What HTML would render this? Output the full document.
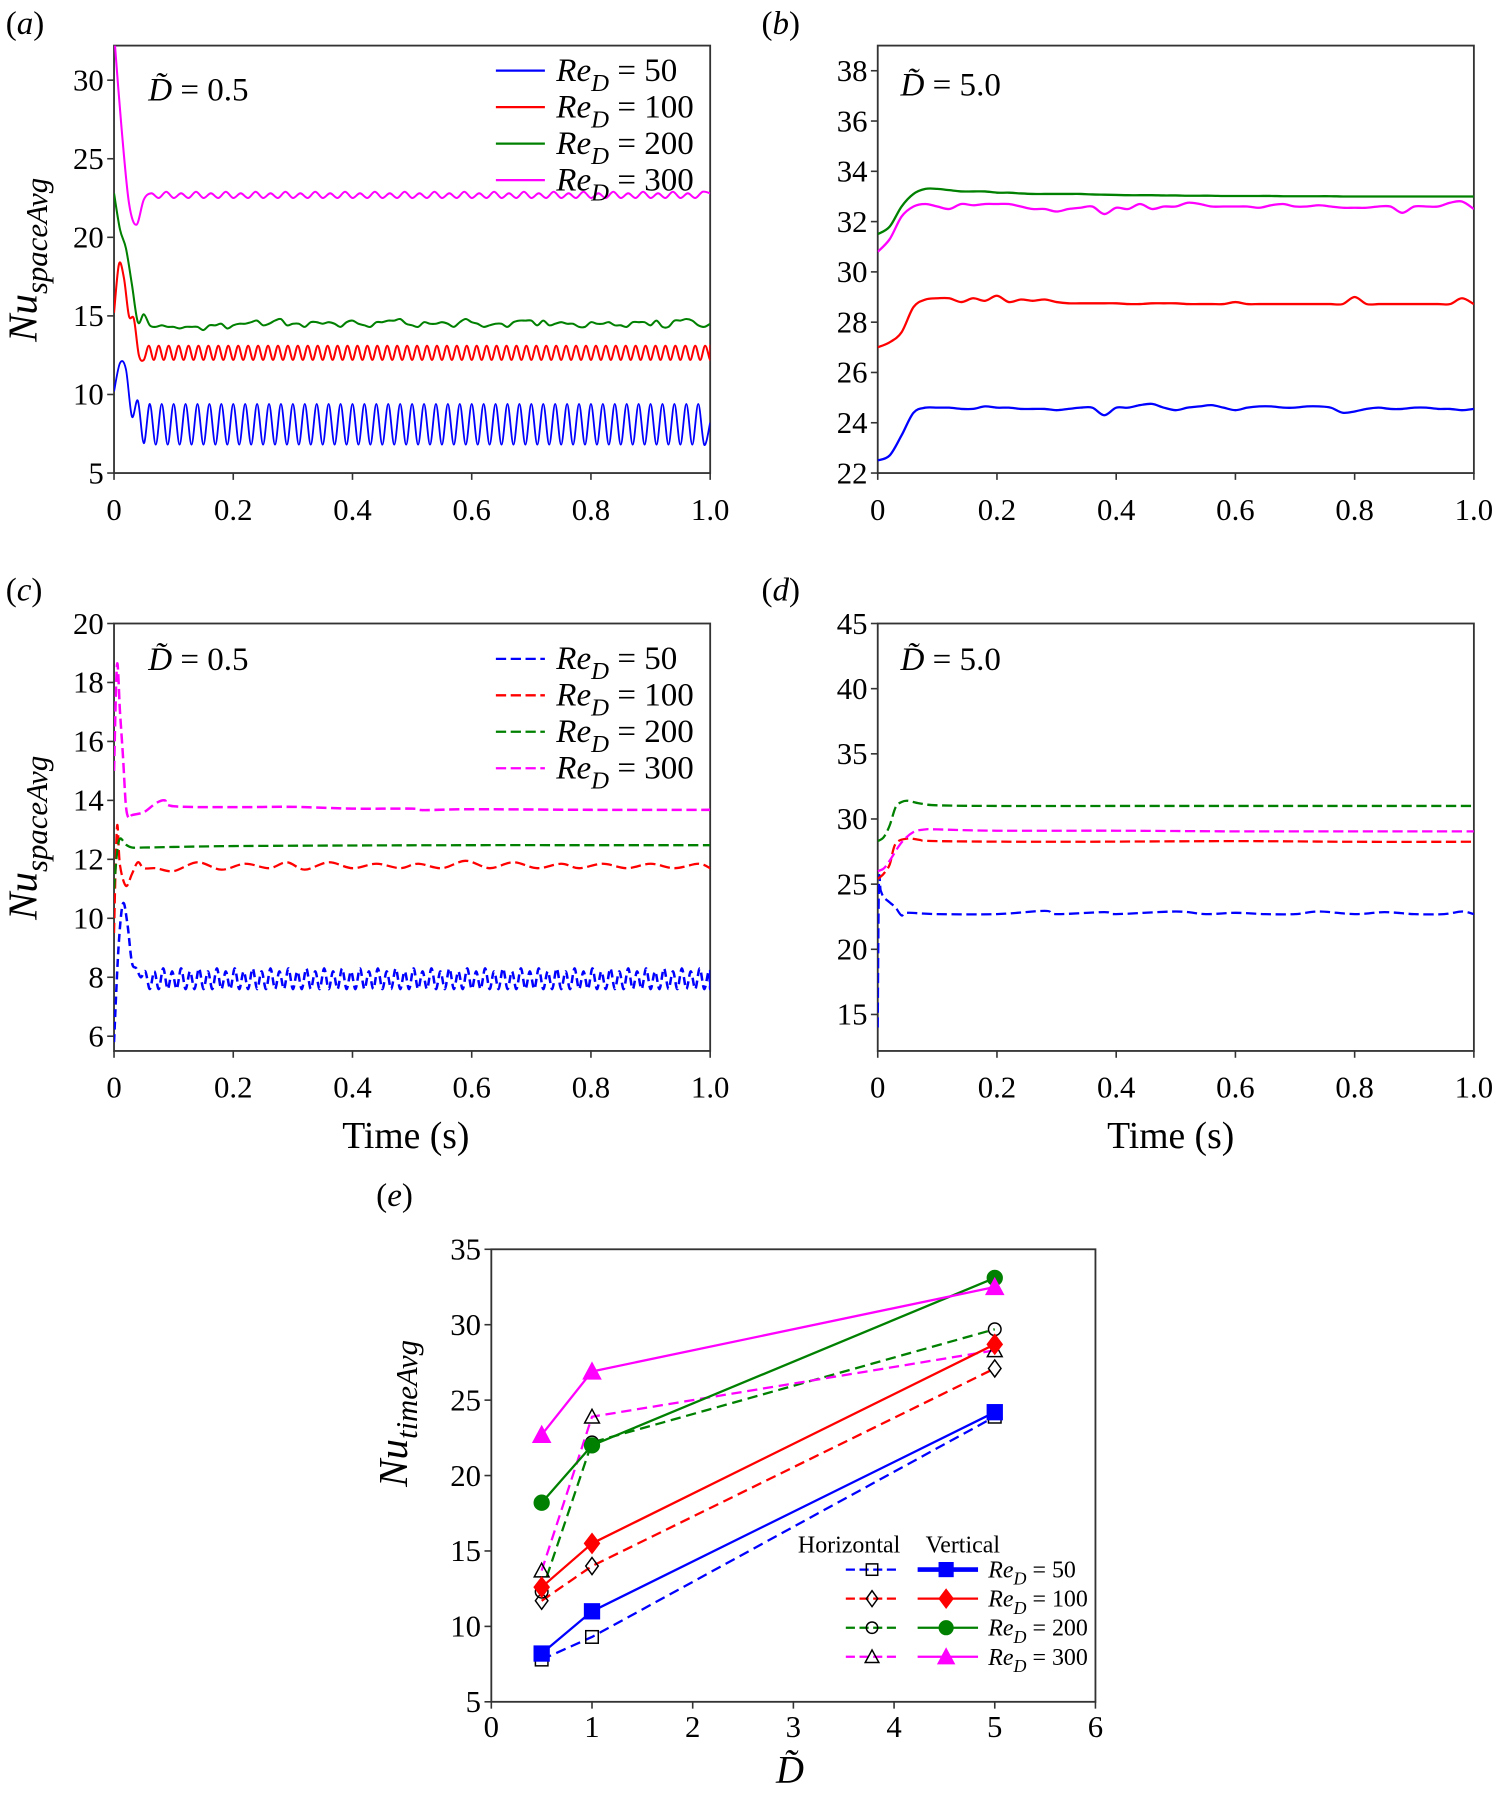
<!DOCTYPE html>
<html><head><meta charset="utf-8"><style>
html,body{margin:0;padding:0;background:#fff;}
svg{display:block;}
svg text{font-family:"Liberation Serif","Times New Roman",serif;}
</style></head><body>
<svg id="fig" width="1499" height="1793" viewBox="0 0 1315 1573" font-family="Liberation Serif, serif" xmlns="http://www.w3.org/2000/svg"></svg>
<script>
// ---------- data ----------
const aBlueDt = 0.01;
const aBlue = [10.2,12,11.6,8.6,9.6,6.9,9.4,6.8,9.4,6.8,9.4,6.8,9.4,6.8,9.4,6.8,9.4,6.8,9.4,6.8,9.4,6.8,9.4,6.8,9.4,6.8,9.4,6.8,9.4,6.8,9.4,6.8,9.4,6.8,9.4,6.8,9.4,6.8,9.4,6.8,9.4,6.8,9.4,6.8,9.4,6.8,9.4,6.8,9.4,6.8,9.4,6.8,9.4,6.8,9.4,6.8,9.4,6.8,9.4,6.8,9.4,6.8,9.4,6.8,9.4,6.8,9.4,6.8,9.4,6.8,9.4,6.8,9.4,6.8,9.4,6.8,9.4,6.8,9.4,6.8,9.4,6.8,9.4,6.8,9.4,6.8,9.4,6.8,9.4,6.8,9.4,6.8,9.4,6.8,9.4,6.8,9.4,6.8,9.4,6.8,8.2];
const aRedDt = 1/120;
const aRed = [15.2,18.3,17.4,15,14.8,12.5,12.2,13.1,12.2,13.1,12.2,13.1,12.2,13.1,12.2,13.1,12.2,13.1,12.2,13.1,12.2,13.1,12.2,13.1,12.2,13.1,12.2,13.1,12.2,13.1,12.2,13.1,12.2,13.1,12.2,13.1,12.2,13.1,12.2,13.1,12.2,13.1,12.2,13.1,12.2,13.1,12.2,13.1,12.2,13.1,12.2,13.1,12.2,13.1,12.2,13.1,12.2,13.1,12.2,13.1,12.2,13.1,12.2,13.1,12.2,13.1,12.2,13.1,12.2,13.1,12.2,13.1,12.2,13.1,12.2,13.1,12.2,13.1,12.2,13.1,12.2,13.1,12.2,13.1,12.2,13.1,12.2,13.1,12.2,13.1,12.2,13.1,12.2,13.1,12.2,13.1,12.2,13.1,12.2,13.1,12.2,13.1,12.2,13.1,12.2,13.1,12.2,13.1,12.2,13.1,12.2,13.1,12.2,13.1,12.2,13.1,12.2,13.1,12.2,13.1,12.2,13.1,12.2,13.1,12.6];
const aGreenDt = 0.01;
const aGreen = [22.8,20.5,19.3,17,14.6,15.1,14.4,14.3,14.4,14.3,14.3,14.2,14.3,14.3,14.3,14.1,14.4,14.4,14.5,14.2,14.4,14.5,14.5,14.6,14.7,14.4,14.5,14.7,14.8,14.4,14.5,14.5,14.3,14.6,14.6,14.5,14.6,14.5,14.3,14.6,14.7,14.5,14.4,14.3,14.6,14.6,14.7,14.7,14.8,14.5,14.4,14.3,14.6,14.5,14.5,14.6,14.5,14.3,14.6,14.8,14.6,14.5,14.3,14.4,14.5,14.5,14.3,14.6,14.7,14.7,14.7,14.4,14.7,14.4,14.5,14.6,14.5,14.5,14.3,14.3,14.6,14.5,14.5,14.6,14.4,14.4,14.3,14.6,14.6,14.6,14.4,14.7,14.3,14.3,14.7,14.7,14.8,14.7,14.4,14.3,14.5];
const aMagDt = 0.0125;
const aMag = [33,27,22.2,20.8,22.4,22.8,22.5,22.9,22.5,22.8,22.5,22.9,22.5,22.8,22.5,22.9,22.5,22.8,22.5,22.9,22.5,22.8,22.5,22.9,22.5,22.8,22.5,22.9,22.5,22.8,22.5,22.9,22.5,22.8,22.5,22.9,22.5,22.8,22.5,22.9,22.5,22.8,22.5,22.9,22.5,22.8,22.5,22.9,22.5,22.8,22.5,22.9,22.5,22.8,22.5,22.9,22.5,22.8,22.5,22.9,22.5,22.8,22.5,22.9,22.5,22.8,22.5,22.9,22.5,22.8,22.5,22.9,22.5,22.8,22.5,22.9,22.5,22.8,22.5,22.9,22.8];
const bDt = 0.02;
const bGreen = [31.5,31.8,32.6,33.1,33.3,33.3,33.25,33.2,33.2,33.2,33.15,33.15,33.12,33.1,33.1,33.1,33.1,33.1,33.08,33.07,33.06,33.05,33.05,33.05,33.04,33.04,33.03,33.03,33.03,33.02,33.02,33.02,33.02,33.02,33.01,33.01,33.01,33.01,33.01,33.0,33.0,33.0,33.0,33.0,33.0,33.0,33.0,33.0,33.0,33.0,33.0];
const bMag = [30.8,31.3,32.2,32.6,32.7,32.6,32.5,32.7,32.65,32.7,32.7,32.7,32.6,32.5,32.5,32.4,32.5,32.55,32.6,32.3,32.55,32.5,32.7,32.5,32.6,32.6,32.75,32.7,32.6,32.6,32.6,32.6,32.55,32.65,32.7,32.6,32.6,32.65,32.6,32.55,32.55,32.55,32.6,32.6,32.35,32.6,32.6,32.6,32.75,32.8,32.5];
const bRed = [27,27.2,27.6,28.6,28.9,28.95,28.95,28.8,28.95,28.85,29.05,28.8,28.9,28.85,28.9,28.8,28.75,28.75,28.75,28.75,28.75,28.72,28.72,28.75,28.75,28.75,28.72,28.72,28.72,28.72,28.8,28.72,28.72,28.72,28.72,28.72,28.72,28.72,28.72,28.72,29.0,28.72,28.72,28.72,28.72,28.72,28.72,28.72,28.72,28.95,28.72];
const bBlue = [22.5,22.7,23.5,24.4,24.6,24.6,24.6,24.55,24.55,24.65,24.6,24.6,24.55,24.55,24.55,24.5,24.55,24.6,24.6,24.3,24.6,24.6,24.7,24.75,24.6,24.5,24.6,24.65,24.7,24.6,24.5,24.6,24.65,24.65,24.6,24.6,24.65,24.65,24.6,24.4,24.45,24.55,24.6,24.55,24.55,24.6,24.6,24.55,24.55,24.5,24.55];
const cBlueDt = 0.0075;
const cBlue = [5.8,9,10.5,9.8,8.5,8.3,8,8.2,7.6,8.2,7.6,8.3,7.6,8.2,7.6,8.3,7.6,8.2,7.6,8.3,7.6,8.2,7.6,8.3,7.6,8.2,7.6,8.3,7.6,8.2,7.6,8.3,7.6,8.2,7.6,8.3,7.6,8.2,7.6,8.3,7.6,8.2,7.6,8.3,7.6,8.2,7.6,8.3,7.6,8.2,7.6,8.3,7.6,8.2,7.6,8.3,7.6,8.2,7.6,8.3,7.6,8.2,7.6,8.3,7.6,8.2,7.6,8.3,7.6,8.2,7.6,8.3,7.6,8.2,7.6,8.3,7.6,8.2,7.6,8.3,7.6,8.2,7.6,8.3,7.6,8.2,7.6,8.3,7.6,8.2,7.6,8.3,7.6,8.2,7.6,8.3,7.6,8.2,7.6,8.3,7.6,8.2,7.6,8.3,7.6,8.2,7.6,8.3,7.6,8.2,7.6,8.3,7.6,8.2,7.6,8.3,7.6,8.2,7.6,8.3,7.6,8.2,7.6,8.3,7.6,8.2,7.6,8.3,7.6,8.2,7.6,8.3,7.6,8.2,7.6,8.3,7.6,8.0];
const cRedT = [0,0.005,0.01,0.02,0.03,0.04,0.05,0.07,0.1,0.14,0.18,0.22,0.26,0.29,0.32,0.36,0.4,0.44,0.48,0.51,0.55,0.59,0.63,0.67,0.71,0.75,0.78,0.82,0.86,0.9,0.94,0.98,1.0];
const cRed = [9.5,13.1,11.8,11.1,11.5,11.9,11.7,11.7,11.6,11.9,11.65,11.85,11.7,11.9,11.65,11.9,11.7,11.85,11.7,11.85,11.7,11.95,11.7,11.9,11.7,11.85,11.7,11.85,11.7,11.85,11.7,11.85,11.7];
const cGreenT = [0,0.005,0.01,0.02,0.03,0.05,0.1,0.2,0.4,0.6,0.8,1.0];
const cGreen = [11,12.2,12.7,12.5,12.4,12.4,12.42,12.45,12.47,12.48,12.48,12.48];
const cMagT = [0,0.005,0.01,0.015,0.02,0.025,0.03,0.05,0.07,0.085,0.1,0.2,0.3,0.4,0.5,0.52,0.6,0.8,1.0];
const cMag = [15,18.6,17,15.5,13.8,13.4,13.5,13.6,13.9,14.0,13.8,13.77,13.78,13.72,13.72,13.67,13.7,13.68,13.68];
const dBlueT = [0,0.002,0.005,0.01,0.02,0.03,0.04,0.05,0.1,0.2,0.28,0.3,0.38,0.4,0.5,0.55,0.6,0.65,0.7,0.74,0.8,0.85,0.9,0.95,0.98,1.0];
const dBlue = [14,25,24.5,24,23.6,23.2,22.6,22.8,22.7,22.7,22.95,22.7,22.85,22.7,22.9,22.7,22.8,22.7,22.7,22.9,22.7,22.85,22.7,22.7,22.9,22.7];
const dRedT = [0,0.01,0.02,0.03,0.05,0.07,0.1,0.3,0.6,0.8,1.0];
const dRed = [25.4,25.8,26.5,28.1,28.5,28.4,28.3,28.25,28.3,28.25,28.25];
const dGreenT = [0,0.01,0.02,0.03,0.04,0.05,0.07,0.1,0.2,0.4,0.6,0.8,1.0];
const dGreen = [28.3,28.6,29.5,30.9,31.3,31.4,31.2,31.05,31.0,31.0,31.0,31.0,31.0];
const dMagT = [0,0.01,0.02,0.04,0.06,0.08,0.1,0.2,0.4,0.6,0.8,1.0];
const dMag = [26,26.2,26.8,28.2,29,29.2,29.2,29.1,29.1,29.05,29.05,29.05];
const eX = [0.5, 1, 5];
const eHor50 = [7.8, 9.3, 23.9];
const eHor100 = [11.7, 14.0, 27.1];
const eHor200 = [12.3, 22.2, 29.7];
const eHor300 = [13.7, 23.9, 28.3];
const eVer50 = [8.2, 11.0, 24.2];
const eVer100 = [12.6, 15.5, 28.7];
const eVer200 = [18.2, 22.0, 33.1];
const eVer300 = [22.7, 26.9, 32.5];
const eXTicks = [0,1,2,3,4,5,6];
const eYTicks = [5,10,15,20,25,30,35];
const timeTicks = [0,0.2,0.4,0.6,0.8,1.0];
const timeTickLabels = ['0','0.2','0.4','0.6','0.8','1.0'];
const aYTicks = [5,10,15,20,25,30];
const bYTicks = [22,24,26,28,30,32,34,36,38];
const cYTicks = [6,8,10,12,14,16,18,20];
const dYTicks = [15,20,25,30,35,40,45];
const reLabels = ['50','100','200','300'];

// ---------- drawing ----------
const NS = 'http://www.w3.org/2000/svg';
const svg = document.getElementById('fig');
const BLUE='#0000ff', RED='#ff0000', GREEN='#008000', MAG='#ff00ff';
function mk(tag, attrs, parent){ const e=document.createElementNS(NS,tag); for(const k in attrs) e.setAttribute(k,attrs[k]); if(tag==='text') e.setAttribute('font-family','Liberation Serif, serif'); (parent||svg).appendChild(e); return e; }
function txt(x,y,s,size,anchor,parent){ const t=mk('text',{x:x,y:y,'font-size':size,'text-anchor':anchor||'start'},parent); t.textContent=s; return t; }
function uniT(v,dt){ return v.map((_,i)=>Math.min(1,i*dt)); }

function panel(p){
  const g=mk('g',{});
  
  
  const X=v=>p.x0+(v-p.xmin)/(p.xmax-p.xmin)*(p.x1-p.x0);
  const Y=v=>p.y1-(v-p.ymin)/(p.ymax-p.ymin)*(p.y1-p.y0);
  p.X=X; p.Y=Y; p.g=g;
  const clipId='clip'+p.name;
  const cp=mk('clipPath',{id:clipId},g); mk('rect',{x:p.x0,y:p.y0,width:p.x1-p.x0,height:p.y1-p.y0},cp);
  p.clip='url(#'+clipId+')';
  const frame=mk('rect',{x:p.x0,y:p.y0,width:p.x1-p.x0,height:p.y1-p.y0,fill:'none',stroke:'#333','stroke-width':1.6},g);
  
  
  const fs=p.fs||27;
  p.yt.forEach(v=>{ const y=Y(v); mk('line',{x1:p.x0-6,x2:p.x0,y1:y,y2:y,stroke:'#333','stroke-width':1.4},g);
    const t=txt(p.x0-9,y+9,String(v),fs,'end',g);
    
     });
  p.xt.forEach((v,i)=>{ const x=X(v); mk('line',{x1:x,x2:x,y1:p.y1,y2:p.y1+6,stroke:'#333','stroke-width':1.4},g);
    const t=txt(x,p.y1+(p.xo||41),p.xl[i],fs,'middle',g);
    
     });
  return p;
}
function series(p,t,v,color,dash,name,w,smooth){
  const pts=t.map((tt,i)=>[p.X(tt),p.Y(v[i])]);
  let d='M'+pts[0][0].toFixed(2)+' '+pts[0][1].toFixed(2);
  for(let i=1;i<pts.length;i++){
    if(smooth){
      const p0=pts[Math.max(0,i-2)],p1=pts[i-1],p2=pts[i],p3=pts[Math.min(pts.length-1,i+1)];
      const c1=[p1[0]+(p2[0]-p0[0])/6,p1[1]+(p2[1]-p0[1])/6], c2=[p2[0]-(p3[0]-p1[0])/6,p2[1]-(p3[1]-p1[1])/6];
      d+=' C'+c1[0].toFixed(2)+' '+c1[1].toFixed(2)+' '+c2[0].toFixed(2)+' '+c2[1].toFixed(2)+' '+p2[0].toFixed(2)+' '+p2[1].toFixed(2);
    } else d+=' L'+pts[i][0].toFixed(2)+' '+pts[i][1].toFixed(2);
  }
  const path=mk('path',{d:d,fill:'none',stroke:color,'stroke-width':w||2,'clip-path':p.clip,'stroke-linejoin':'round'},p.g);
  if(dash) path.setAttribute('stroke-dasharray',dash);
  
  
}
function reText(x,y,n,size,parent){
  const t=mk('text',{x:x,y:y,'font-size':size},parent);
  t.innerHTML='<tspan font-style="italic">Re</tspan><tspan font-style="italic" font-size="'+(size*0.75)+'" dy="'+(size*0.3)+'">D</tspan><tspan dy="'+(-size*0.3)+'"> = '+n+'</tspan>';
  return t;
}
function legend(p,y0,dash){
  const cols=[BLUE,RED,GREEN,MAG];
  cols.forEach((c,i)=>{ const y=y0+i*32;
    const l=mk('line',{x1:435,x2:478,y1:y,y2:y,stroke:c,'stroke-width':2},p.g); if(dash) l.setAttribute('stroke-dasharray',dash);
    
    
    const t=reText(488,y+9,reLabels[i],29,p.g);
    
     });
}
function dLabel(x,y,val,g){
  const t=mk('text',{x:x,y:y,'font-size':29},g);
  t.innerHTML='<tspan font-style="italic">D&#771;</tspan> = '+val;
  
  
}
function ytitle(x,y,sub,g){
  const t=mk('text',{x:x,y:y,'font-size':36,'text-anchor':'middle',transform:'rotate(-90 '+x+' '+y+')'},g);
  t.innerHTML='<tspan font-style="italic">Nu</tspan><tspan font-style="italic" font-size="27" dy="9">'+sub+'</tspan>';
  
  
}
function letter(x,y,s){ const t=mk('text',{x:x,y:y,'font-size':29}); t.innerHTML='(<tspan font-style="italic">'+s+'</tspan>)';
  
   }

const pa=panel({name:'panel-a',x0:100,x1:623,y0:40,y1:415,xmin:0,xmax:1,ymin:5,ymax:32.2,yt:aYTicks,xt:timeTicks,xl:timeTickLabels});
series(pa,uniT(aMag,aMagDt),aMag,MAG,null,'series-re300',1.8,true);
series(pa,uniT(aGreen,aGreenDt),aGreen,GREEN,null,'series-re200',1.8,true);
series(pa,uniT(aRed,aRedDt),aRed,RED,null,'series-re100',1.8,true);
series(pa,uniT(aBlue,aBlueDt),aBlue,BLUE,null,'series-re50',1.6,true);
legend(pa,62,null); dLabel(130,88,'0.5',pa.g); ytitle(32,228,'spaceAvg',pa.g); letter(5,30,'a');
const pb=panel({name:'panel-b',x0:770,x1:1293,y0:40,y1:415,xmin:0,xmax:1,ymin:22,ymax:39,yt:bYTicks,xt:timeTicks,xl:timeTickLabels});
series(pb,uniT(bGreen,bDt),bGreen,GREEN,null,'series-re200',2,true);
series(pb,uniT(bMag,bDt),bMag,MAG,null,'series-re300',2,true);
series(pb,uniT(bRed,bDt),bRed,RED,null,'series-re100',2,true);
series(pb,uniT(bBlue,bDt),bBlue,BLUE,null,'series-re50',2,true);
dLabel(790,84,'5.0',pb.g); letter(668,30,'b');
const pc=panel({name:'panel-c',x0:100,x1:623,y0:547,y1:922,xmin:0,xmax:1,ymin:5.5,ymax:20,yt:cYTicks,xt:timeTicks,xl:timeTickLabels});
series(pc,uniT(cBlue,cBlueDt),cBlue,BLUE,'7 4','series-re50',2.2,true);
series(pc,cRedT,cRed,RED,'9 4','series-re100',2,true);
series(pc,cGreenT,cGreen,GREEN,'9 4','series-re200',2,true);
series(pc,cMagT,cMag,MAG,'9 4','series-re300',2.2,true);
legend(pc,578,'9 4'); dLabel(130,588,'0.5',pc.g); ytitle(32,735,'spaceAvg',pc.g); letter(5,527,'c');
{ const t=txt(356,1007,'Time (s)',33,'middle',pc.g);   }
const pd=panel({name:'panel-d',x0:770,x1:1293,y0:547,y1:922,xmin:0,xmax:1,ymin:12.2,ymax:45,yt:dYTicks,xt:timeTicks,xl:timeTickLabels});
series(pd,dBlueT,dBlue,BLUE,'9 4','series-re50',2,true);
series(pd,dRedT,dRed,RED,'9 4','series-re100',2,true);
series(pd,dGreenT,dGreen,GREEN,'9 4','series-re200',2,true);
series(pd,dMagT,dMag,MAG,'9 4','series-re300',2,true);
dLabel(790,588,'5.0',pd.g); letter(668,527,'d');
{ const t=txt(1027,1007,'Time (s)',33,'middle',pd.g);   }

const pe=panel({name:'panel-e',x0:431,x1:961,y0:1096,y1:1493,xmin:0,xmax:6,ymin:5,ymax:35,yt:eYTicks,xt:eXTicks,xl:eXTicks.map(String),xo:31});
letter(330,1058,'e');
ytitle(357,1240,'timeAvg',pe.g);
{ const t=mk('text',{x:693,y:1564,'font-size':34,'text-anchor':'middle','font-style':'italic'},pe.g); t.innerHTML='D&#771;';
  
   }
function marker(g,type,x,y,color,filled,s){
  s=s||6; const fill=filled?color:'none', stroke=filled?color:'#000'; let m;
  if(type==='sq') m=mk('rect',{x:x-s,y:y-s,width:2*s,height:2*s,fill:fill,stroke:stroke,'stroke-width':1.3},g);
  else if(type==='di') m=mk('path',{d:`M${x} ${y-s-2}L${x+s} ${y}L${x} ${y+s+2}L${x-s} ${y}Z`,fill:fill,stroke:stroke,'stroke-width':1.3},g);
  else if(type==='ci') m=mk('circle',{cx:x,cy:y,r:s,fill:fill,stroke:stroke,'stroke-width':1.3},g);
  else m=mk('path',{d:`M${x} ${y-s-1}L${x+s+1} ${y+s}L${x-s-1} ${y+s}Z`,fill:fill,stroke:stroke,'stroke-width':1.3},g);
  
  
}
const eSeries=[[eHor50,BLUE,'sq',false,'horizontal-re50'],[eHor100,RED,'di',false,'horizontal-re100'],[eHor200,GREEN,'ci',false,'horizontal-re200'],[eHor300,MAG,'tr',false,'horizontal-re300'],
  [eVer50,BLUE,'sq',true,'vertical-re50'],[eVer100,RED,'di',true,'vertical-re100'],[eVer200,GREEN,'ci',true,'vertical-re200'],[eVer300,MAG,'tr',true,'vertical-re300']];
eSeries.forEach(s=>{
  series(pe,eX,s[0],s[1],s[3]?null:'9 5',s[4],2,false);
  eX.forEach((x,i)=>marker(pe.g,s[2],pe.X(x),pe.Y(s[0][i]),s[1],s[3],s[3]?6.5:5.5));
});
txt(700,1362,'Horizontal',21,'start',pe.g); txt(812,1362,'Vertical',21,'start',pe.g);
[BLUE,RED,GREEN,MAG].forEach((c,i)=>{ const y=1377+i*25.5; const types=['sq','di','ci','tr'];
  const l1=mk('line',{x1:742,x2:790,y1:y,y2:y,stroke:c,'stroke-width':2,'stroke-dasharray':'8 4'},pe.g);
  
  
  marker(pe.g,types[i],765,y,c,false,5);
  const l2=mk('line',{x1:805,x2:858,y1:y,y2:y,stroke:c,'stroke-width':i==0?4:2},pe.g);
  
  
  marker(pe.g,types[i],830,y,c,true,6);
  const t=reText(867,y+7,reLabels[i],21,pe.g);
  
  
});
</script>
</body></html>
